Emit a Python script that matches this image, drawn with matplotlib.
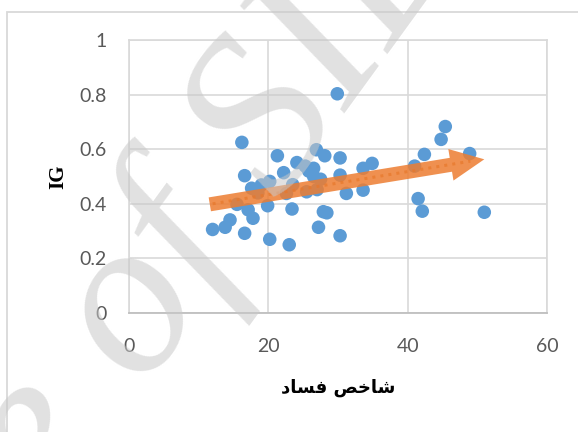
import numpy as np
import matplotlib
matplotlib.use('Agg')
from matplotlib import pyplot as plt
from matplotlib.patches import FancyArrowPatch, Rectangle
from matplotlib.textpath import TextPath
from matplotlib.font_manager import FontProperties

# corruption index (x) vs IG (y)
corruption = [29.9, 45.4, 44.8, 16.2, 26.9, 28.1, 21.3, 30.3, 42.4, 48.9,
              24.1, 34.9, 33.6, 26.5, 25.3, 22.2, 16.6, 30.3, 41.0, 20.2,
              26.5, 19.0, 17.6, 31.2, 33.6, 27.0, 25.5, 22.6, 15.5, 19.9,
              41.5, 17.1, 23.4, 27.9, 28.4, 42.1, 51.0, 17.8, 14.5, 13.8,
              12.0, 16.6, 27.2, 30.3, 20.2, 23.0, 25.8, 27.5, 23.5, 18.5]
ig = [0.803, 0.683, 0.636, 0.625, 0.598, 0.576, 0.576, 0.568, 0.581, 0.584,
      0.551, 0.548, 0.530, 0.530, 0.538, 0.514, 0.503, 0.505, 0.538, 0.482,
      0.500, 0.469, 0.457, 0.438, 0.450, 0.452, 0.444, 0.438, 0.398, 0.393,
      0.419, 0.378, 0.381, 0.371, 0.367, 0.373, 0.369, 0.347, 0.341, 0.314,
      0.306, 0.292, 0.314, 0.283, 0.270, 0.250, 0.520, 0.490, 0.470, 0.440]

trend_x = [12.0, 49.0]
trend_y = [0.400, 0.556]
arrow_start = (11.6, 0.398)
arrow_end = (51.0, 0.563)

xticks = [0, 20, 40, 60]
yticks = [0, 0.2, 0.4, 0.6, 0.8, 1]
ytick_labels = ['0', '0.2', '0.4', '0.6', '0.8', '1']

# "شاخص فساد" in presentation forms, visual order
xlabel = '\uFEA9\uFE8E\uFEB4\uFED3 \uFEBA\uFEA7\uFE8E\uFEB7'
watermark = 'Archive of SID'

W, H = 578, 432
fig = plt.figure(figsize=(W/100, H/100), dpi=100)
ax = fig.add_axes([129/W, 1-313/H, (547-129)/W, (313-40)/H])

# watermark, placed so the "S" sits where it is in the picture
wm_px = 225.0           # em size in pixels
theta = np.radians(54)
fp = FontProperties(family='Liberation Serif', style='italic')
ext_to_s = TextPath((0, 0), 'Archive of S', size=wm_px, prop=fp).get_extents()
ext_s = TextPath((0, 0), 'S', size=wm_px, prop=fp).get_extents()
a = ext_to_s.x1 - ext_s.width / 2
b = (ext_s.y0 + ext_s.y1) / 2
u = np.array([np.cos(theta), np.sin(theta)])
n = np.array([-np.sin(theta), np.cos(theta)])
target = np.array([258.0, H - 125.0])
P = target - a * u - b * n
fig.text(P[0] / W, P[1] / H, watermark, rotation=np.degrees(theta),
         rotation_mode='anchor', ha='left', va='baseline',
         fontproperties=fp, fontsize=wm_px * 72 / 100,
         color='#C8C8C8', alpha=0.55, zorder=10)

# outer chart border
fig.add_artist(Rectangle((7/W, -0.2), 1.2, 1.2 - 12/H,
                         transform=fig.transFigure, fill=False,
                         edgecolor='#D9D9D9', lw=1.3, zorder=1))

ax.scatter(corruption, ig, s=95, color='#5B9BD5', edgecolors='none', zorder=3)

ax.plot(trend_x, trend_y, ls=':', lw=2.2, color='#C55A11', alpha=0.7, zorder=4)
arr = FancyArrowPatch(arrow_start, arrow_end,
                      arrowstyle='simple,head_length=0.53,head_width=0.5,tail_width=0.22',
                      mutation_scale=46, shrinkA=0, shrinkB=0,
                      color='#ED7D31', alpha=0.85, zorder=5, lw=0)
ax.add_patch(arr)

ax.set_xlim(0, 60)
ax.set_ylim(0, 1)
ax.set_xticks(xticks)
ax.set_yticks(yticks)
ax.set_yticklabels(ytick_labels)
ax.grid(True, color='#D9D9D9', lw=1.2, zorder=0)
ax.set_axisbelow(True)
for s in ['top', 'right', 'left']:
    ax.spines[s].set_color('#D9D9D9')
    ax.spines[s].set_linewidth(1.2)
ax.spines['bottom'].set_color('#BFBFBF')
ax.spines['bottom'].set_linewidth(1.3)
ax.tick_params(length=0, labelsize=14, labelcolor='#595959')
ax.tick_params(axis='y', pad=16)
ax.tick_params(axis='x', pad=18)
for lab in ax.get_xticklabels() + ax.get_yticklabels():
    lab.set_family('Lato')

ax.set_ylabel('IG', family='Liberation Serif', fontweight='bold', fontsize=15,
              labelpad=8)
ax.set_xlabel(xlabel, family='DejaVu Sans', fontweight='bold', fontsize=13,
              labelpad=17)

fig.savefig('out.png', dpi=100)
